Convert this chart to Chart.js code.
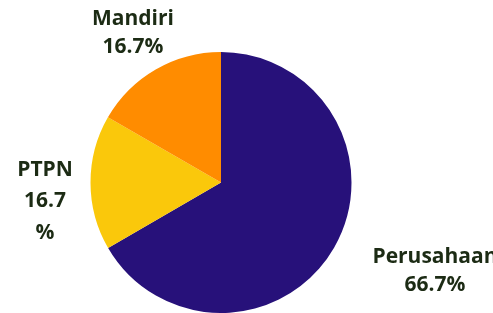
<!DOCTYPE html>
<html><head><meta charset="utf-8">
<script src="https://cdn.jsdelivr.net/npm/chart.js@4/dist/chart.umd.min.js"></script>
<style>html,body{margin:0;padding:0;background:#fff;}#wrap{width:493px;height:313px;}</style>
</head><body><div id="wrap"><canvas id="c" width="493" height="313"></canvas></div>
<script>
const categories = ["Perusahaan", "PTPN", "Mandiri"];
const values = [66.7, 16.7, 16.7];
const labelLines = [["Perusahaan", "66.7%"], ["PTPN", "16.7", "%"], ["Mandiri", "16.7%"]];
const colors = ["#27117a", "#fac80b", "#ff8c00"];
// label anchor offsets from pie centre (px) and line spacing
const labelOffsets = [[214, 74.5], [-176, -12.5], [-88, -163.5]];
const lineSpacing = [28, 31.5, 28];

const labelPlugin = {
  id: 'pieLabels',
  afterDraw(chart) {
    const ctx = chart.ctx;
    const arc = chart.getDatasetMeta(0).data[0];
    const cx = arc.x, cy = arc.y;
    ctx.save();
    ctx.font = "bold 21px 'Open Sans'";
    ctx.fillStyle = "#1c2b14";
    ctx.textAlign = "center";
    ctx.textBaseline = "middle";
    labelLines.forEach((lines, i) => {
      const [ox, oy] = labelOffsets[i];
      lines.forEach((t, j) => ctx.fillText(t, cx + ox, cy + oy + j * lineSpacing[i]));
    });
    ctx.restore();
  }
};

new Chart(document.getElementById('c'), {
  type: 'pie',
  data: { labels: categories, datasets: [{ data: values, backgroundColor: colors, borderWidth: 0 }] },
  options: {
    responsive: false, animation: false,
    layout: { padding: { top: 52, bottom: 0, left: 0, right: 51 } },
    plugins: { legend: { display: false }, tooltip: { enabled: false } }
  },
  plugins: [labelPlugin]
});
</script></body></html>
